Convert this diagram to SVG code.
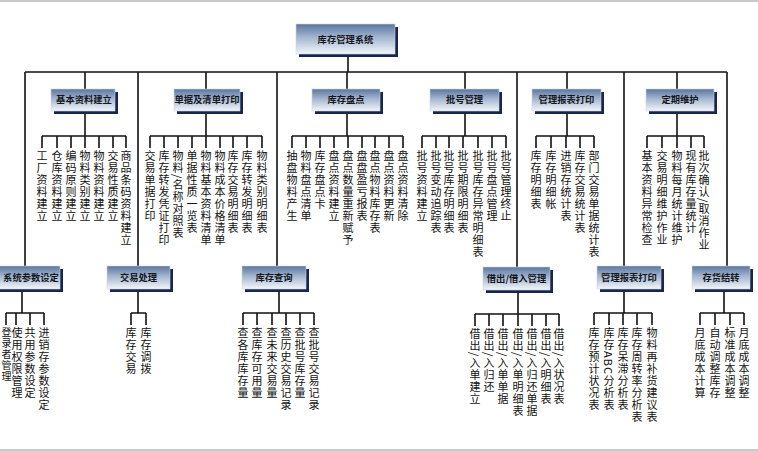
<svg xmlns="http://www.w3.org/2000/svg" width="758" height="451" viewBox="0 0 758 451">
<defs>
<linearGradient id="g" x1="0" y1="0" x2="0" y2="1">
<stop offset="0" stop-color="#5b76a0"/>
<stop offset="0.45" stop-color="#a5b6cf"/>
<stop offset="1" stop-color="#f3f6fa"/>
</linearGradient>
<style>
.sh{fill:#18264b}
.bx{fill:url(#g);stroke:#c9d3e2;stroke-width:0.6}
.bt{font-family:"Noto Sans CJK SC","Noto Sans",sans-serif;font-size:9.3px;font-weight:bold;fill:#15171c;text-anchor:middle}
.ln{stroke:#111;stroke-width:1.6;fill:none}
.v{font-family:"Noto Sans CJK SC","Noto Sans",sans-serif;font-size:11px;letter-spacing:1px;fill:#111;writing-mode:vertical-rl}
.frame{stroke:#c8c8c8;stroke-width:2}
</style>
</defs>
<rect x="0" y="0" width="758" height="451" fill="#fff"/>
<line class="frame" x1="0" y1="1" x2="758" y2="1"/>
<line class="frame" x1="0" y1="450" x2="758" y2="450"/>

<g id="connectors">
<path class="ln" d="M348 57V72M25 72H727"/>
<path class="ln" d="M85 72V89M206 72V89M347 72V89M465 72V89M567 72V89M677 72V89"/>
<path class="ln" d="M25 72V266M138 72V266M277 72V266M517 72V267M624 72V266M727 72V266"/>
<path class="ln" d="M85 113V136M42 136H126M42 136V148M57 136V148M71 136V148M85 136V148M99 136V148M113 136V148M126 136V148"/>
<path class="ln" d="M206 113V136M150 136H262M150 136V148M164 136V148M178 136V148M192 136V148M206 136V148M220 136V148M233 136V148M247 136V148M262 136V148"/>
<path class="ln" d="M347 113V136M292 136H403M292 136V148M306 136V148M320 136V148M334 136V148M348 136V148M362 136V148M375 136V148M389 136V148M403 136V148"/>
<path class="ln" d="M465 113V136M422 136H506M422 136V148M436 136V148M449 136V148M463 136V148M478 136V148M492 136V148M506 136V148"/>
<path class="ln" d="M567 113V136M536 136H594M536 136V148M551 136V148M566 136V148M580 136V148M594 136V148"/>
<path class="ln" d="M677 113V136M647 136H704M647 136V148M662 136V148M677 136V148M691 136V148M704 136V148"/>
<path class="ln" d="M22 292V313M6 313H44M6 313V325M16 313V325M30 313V325M44 313V325"/>
<path class="ln" d="M138 292V313M131 313H146M131 313V325M146 313V325"/>
<path class="ln" d="M279 292V313M243 313H314M243 313V325M257 313V325M272 313V325M286 313V325M300 313V325M314 313V325"/>
<path class="ln" d="M518 292V314M475 314H559M475 314V326M489 314V326M503 314V326M518 314V326M532 314V326M546 314V326M559 314V326"/>
<path class="ln" d="M624 292V313M594 313H652M594 313V325M609 313V325M623 313V325M637 313V325M652 313V325"/>
<path class="ln" d="M724 292V313M700 313H744M700 313V325M715 313V325M730 313V325M744 313V325"/>
</g>

<g id="root"><rect class="sh" x="299" y="27" width="99" height="30"/><rect class="bx" x="296" y="24" width="99" height="30"/><text class="bt" x="345.5" y="42.5">库存管理系统</text></g>

<g id="n-jiben"><rect class="sh" x="54" y="92" width="64" height="22"/><rect class="bx" x="51" y="89" width="64" height="22"/><text class="bt" x="84" y="103.3">基本资料建立</text>
<text class="v" x="42" y="150">工厂资料建立</text><text class="v" x="57" y="150">仓库资料建立</text><text class="v" x="71" y="150">编码原则建立</text><text class="v" x="85" y="150">物料类别建立</text><text class="v" x="99" y="150">物料资料建立</text><text class="v" x="113" y="150">交易性质建立</text><text class="v" x="126" y="150">商品条码资料建立</text></g>

<g id="n-danju"><rect class="sh" x="177" y="92" width="66" height="22"/><rect class="bx" x="174" y="89" width="66" height="22"/><text class="bt" x="207" y="103.3">单据及清单打印</text>
<text class="v" x="150" y="150">交易单据打印</text><text class="v" x="164" y="150">库存转发凭证打印</text><text class="v" x="178" y="150">物料/名称对照表</text><text class="v" x="192" y="150">单据性质一览表</text><text class="v" x="206" y="150">物料基本资料清单</text><text class="v" x="220" y="150">物料成本价格清单</text><text class="v" x="233" y="150">库存交易明细表</text><text class="v" x="247" y="150">库存转发明细表</text><text class="v" x="262" y="150">物料类别明细表</text></g>

<g id="n-pandian"><rect class="sh" x="315" y="92" width="68" height="22"/><rect class="bx" x="312" y="89" width="68" height="22"/><text class="bt" x="346" y="103.3">库存盘点</text>
<text class="v" x="292" y="150">抽盘物料产生</text><text class="v" x="306" y="150">物料盘点清单</text><text class="v" x="320" y="150">库存盘点卡</text><text class="v" x="334" y="150">盘点资料建立</text><text class="v" x="348" y="150">盘点数量重新赋予</text><text class="v" x="362" y="150">盘盘盈亏报表</text><text class="v" x="375" y="150">盘点物料库存表</text><text class="v" x="389" y="150">盘点资料更新</text><text class="v" x="403" y="150">盘点资料清除</text></g>

<g id="n-pihao"><rect class="sh" x="433" y="92" width="69" height="22"/><rect class="bx" x="430" y="89" width="69" height="22"/><text class="bt" x="464.5" y="103.3">批号管理</text>
<text class="v" x="422" y="150">批号资料建立</text><text class="v" x="436" y="150">批号变动追踪表</text><text class="v" x="449" y="150">批号库存明细表</text><text class="v" x="463" y="150">批号期限明细表</text><text class="v" x="478" y="150">批号库存异常明细表</text><text class="v" x="492" y="150">批号盘点管理</text><text class="v" x="506" y="150">批号管理终止</text></g>

<g id="n-baobiao1"><rect class="sh" x="535" y="92" width="69" height="22"/><rect class="bx" x="532" y="89" width="69" height="22"/><text class="bt" x="566.5" y="103.3">管理报表打印</text>
<text class="v" x="536" y="150">库存明细表</text><text class="v" x="551" y="150">库存明细帐</text><text class="v" x="566" y="150">进销存统计表</text><text class="v" x="580" y="150">库存交易统计表</text><text class="v" x="594" y="150">部门交易单据统计表</text></g>

<g id="n-weihu"><rect class="sh" x="649" y="92" width="68" height="22"/><rect class="bx" x="646" y="89" width="68" height="22"/><text class="bt" x="680" y="103.3">定期维护</text>
<text class="v" x="647" y="150">基本资料异常检查</text><text class="v" x="662" y="150">交易明细维护作业</text><text class="v" x="677" y="150">物料每月统计维护</text><text class="v" x="691" y="150">现有库存量统计</text><text class="v" x="704" y="150">批次确认/取消作业</text></g>

<g id="n-xitong"><rect class="sh" x="-7" y="269" width="70" height="23"/><rect class="bx" x="-10" y="266" width="70" height="23"/><text class="bt" x="31" y="281">系统参数设定</text>
<text class="v" x="6.5" y="327" style="font-size:10px">登录者管理</text><text class="v" x="17" y="327">使用权限管理</text><text class="v" x="30" y="327">共用参数设定</text><text class="v" x="44" y="327">进销存参数设定</text></g>

<g id="n-jiaoyi"><rect class="sh" x="110" y="269" width="63" height="23"/><rect class="bx" x="107" y="266" width="63" height="23"/><text class="bt" x="138.5" y="281">交易处理</text>
<text class="v" x="131" y="327">库存交易</text><text class="v" x="146" y="327">库存调拨</text></g>

<g id="n-chaxun"><rect class="sh" x="245" y="269" width="64" height="23"/><rect class="bx" x="242" y="266" width="64" height="23"/><text class="bt" x="274" y="281">库存查询</text>
<text class="v" x="243" y="327">查各库库存量</text><text class="v" x="257" y="327">查库存可用量</text><text class="v" x="272" y="327">查未来交易量</text><text class="v" x="286" y="327">查历史交易记录</text><text class="v" x="300" y="327">查批号库存量</text><text class="v" x="314" y="327">查批号交易记录</text></g>

<g id="n-jiechu"><rect class="sh" x="486" y="270" width="67" height="23"/><rect class="bx" x="483" y="267" width="67" height="23"/><text class="bt" x="516.5" y="282">借出/借入管理</text>
<text class="v" x="475" y="328">借出/入单建立</text><text class="v" x="489" y="328">借出/入归还</text><text class="v" x="503" y="328">借出/入单单据</text><text class="v" x="518" y="328">借出/入单明细表</text><text class="v" x="532" y="328">借出/入归还单据</text><text class="v" x="546" y="328">借出/入明细表</text><text class="v" x="559" y="328">借出/入状况表</text></g>

<g id="n-baobiao2"><rect class="sh" x="600" y="269" width="64" height="23"/><rect class="bx" x="597" y="266" width="64" height="23"/><text class="bt" x="629" y="281">管理报表打印</text>
<text class="v" x="594" y="327">库存预计状况表</text><text class="v" x="609" y="327">库存ABC分析表</text><text class="v" x="623" y="327">库存呆滞分析表</text><text class="v" x="637" y="327">库存周转率分析表</text><text class="v" x="652" y="327">物料再补货建议表</text></g>

<g id="n-jiezhuan"><rect class="sh" x="695" y="269" width="58" height="23"/><rect class="bx" x="692" y="266" width="58" height="23"/><text class="bt" x="721" y="281">存货结转</text>
<text class="v" x="700" y="327">月底成本计算</text><text class="v" x="715" y="327">自动调整库存</text><text class="v" x="730" y="327">标准成本调整</text><text class="v" x="744" y="327">月底成本调整</text></g>
</svg>
